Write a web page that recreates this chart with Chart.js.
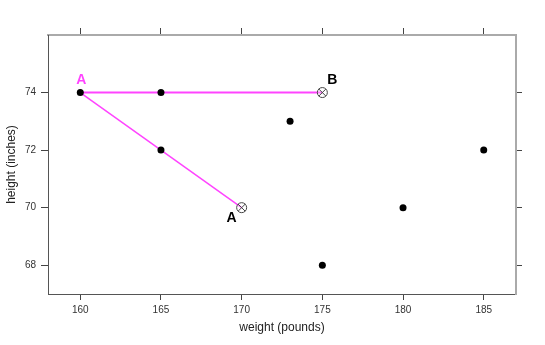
<!DOCTYPE html>
<html>
<head>
<meta charset="utf-8">
<script src="https://cdn.jsdelivr.net/npm/chart.js@4/dist/chart.umd.min.js"></script>
<style>
  html, body { margin: 0; padding: 0; background: #fff; }
  canvas { display: block; }
</style>
</head>
<body>
<canvas id="c" width="545" height="345"></canvas>
<script>
// ---- data ----
const dotWeight = [160, 165, 165, 173, 175, 180, 185];
const dotHeight = [74, 74, 72, 73, 68, 70, 72];
const markWeight = [170, 175];
const markHeight = [70, 74];
const lineAB = [[160, 74], [175, 74]];
const lineAA = [[160, 74], [170, 70]];
const labelText = ['A', 'B', 'A'];
const labelWeight = [160, 175, 170];
const labelHeight = [74, 74, 70];
const xTicks = [160, 165, 170, 175, 180, 185];
const yTicks = [68, 70, 72, 74];
const xTitle = 'weight (pounds)';
const yTitle = 'height (inches)';

const MAGENTA = '#ff44ff';
const toPts = (xs, ys) => xs.map((x, i) => ({ x: x, y: ys[i] }));
const pairPts = arr => arr.map(p => ({ x: p[0], y: p[1] }));

const labelPlugin = {
  id: 'labels',
  afterDatasetsDraw(chart) {
    const ctx = chart.ctx;
    const xs = chart.scales.x, ys = chart.scales.y;
    const offsets = [[1, -12], [10, -12], [-10, 10]];
    const colors = [MAGENTA, '#000', '#000'];
    ctx.save();
    ctx.font = 'bold 14px "Liberation Sans", Arial, sans-serif';
    ctx.textAlign = 'center';
    ctx.textBaseline = 'middle';
    labelText.forEach((t, i) => {
      const px = xs.getPixelForValue(labelWeight[i]) + offsets[i][0];
      const py = ys.getPixelForValue(labelHeight[i]) + offsets[i][1];
      ctx.fillStyle = colors[i];
      ctx.fillText(t, px, py);
    });
    ctx.restore();
  }
};

const tickFont = { family: '"Liberation Sans", Arial, sans-serif', size: 10 };
const titleFont = { family: '"Liberation Sans", Arial, sans-serif', size: 12 };
const setTicks = vals => scale => { scale.ticks = vals.map(v => ({ value: v })); };

new Chart(document.getElementById('c'), {
  type: 'scatter',
  data: {
    datasets: [
      { type: 'line', data: pairPts(lineAB), borderColor: MAGENTA, borderWidth: 2, pointRadius: 0, fill: false, order: 5 },
      { type: 'line', data: pairPts(lineAA), borderColor: MAGENTA, borderWidth: 1.5, pointRadius: 0, fill: false, order: 5 },
      { data: toPts(dotWeight, dotHeight), pointStyle: 'circle', pointRadius: 3.5, backgroundColor: '#000', borderColor: '#000', borderWidth: 0, order: 3 },
      { data: toPts(markWeight, markHeight), pointStyle: 'circle', pointRadius: 5, backgroundColor: 'rgba(255,255,255,0.3)', borderColor: '#444', borderWidth: 1, order: 2 },
      { data: toPts(markWeight, markHeight), pointStyle: 'crossRot', pointRadius: 5, borderColor: '#444', borderWidth: 1, order: 1 }
    ]
  },
  options: {
    responsive: false,
    devicePixelRatio: 1,
    animation: false,
    events: [],
    layout: { padding: 0 },
    plugins: { legend: { display: false }, tooltip: { enabled: false } },
    scales: {
      x: {
        type: 'linear', position: 'bottom', min: 158, max: 187,
        afterBuildTicks: setTicks(xTicks),
        afterFit: s => { s.height = 51; },
        border: { color: '#555', width: 1 },
        grid: { drawOnChartArea: false, drawTicks: true, tickLength: 6, tickColor: '#444', tickWidth: 1 },
        ticks: { font: tickFont, color: '#333', padding: 4, maxRotation: 0 },
        title: { display: true, text: xTitle, font: titleFont, color: '#222', padding: { top: 0, bottom: 10 } }
      },
      x2: {
        type: 'linear', position: 'top', min: 158, max: 187,
        afterBuildTicks: setTicks(xTicks),
        afterFit: s => { s.height = 35; },
        border: { color: '#aaa', width: 2 },
        grid: { drawOnChartArea: false, drawTicks: true, tickLength: 7, tickColor: '#444', tickWidth: 1 },
        ticks: { display: false }
      },
      y: {
        type: 'linear', position: 'left', min: 67, max: 76,
        afterBuildTicks: setTicks(yTicks),
        afterFit: s => { s.width = 48; },
        border: { color: '#555', width: 1 },
        grid: { drawOnChartArea: false, drawTicks: true, tickLength: 7, tickColor: '#444', tickWidth: 1 },
        ticks: { font: tickFont, color: '#333', padding: 5 },
        title: { display: true, text: yTitle, font: titleFont, color: '#222', padding: { top: 4, bottom: 0 } }
      },
      y2: {
        type: 'linear', position: 'right', min: 67, max: 76,
        afterBuildTicks: setTicks(yTicks),
        afterFit: s => { s.width = 29; },
        border: { color: '#aaa', width: 2 },
        grid: { drawOnChartArea: false, drawTicks: true, tickLength: 6, tickColor: '#444', tickWidth: 1 },
        ticks: { display: false }
      }
    }
  },
  plugins: [labelPlugin]
});
</script>
</body>
</html>
